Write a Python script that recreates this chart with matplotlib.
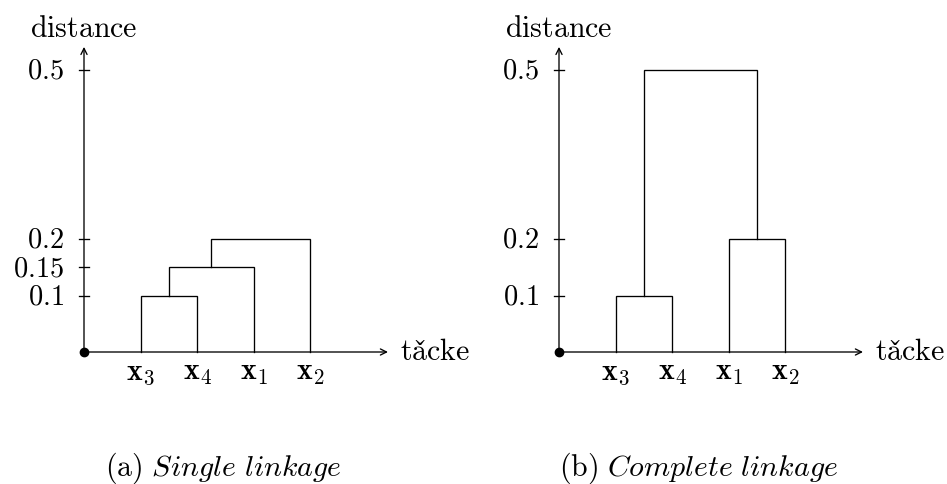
import matplotlib
matplotlib.use("Agg")
import matplotlib.pyplot as plt

plt.rcParams['mathtext.fontset'] = 'cm'

# ---- data ----
leaf_labels = [r'$\mathbf{x}_3$', r'$\mathbf{x}_4$', r'$\mathbf{x}_1$', r'$\mathbf{x}_2$']
# merges: (cluster a, cluster b, height); leaves 0..3, new clusters 4, 5, 6
single_merges = [(0, 1, 0.1), (4, 2, 0.15), (5, 3, 0.2)]
complete_merges = [(0, 1, 0.1), (2, 3, 0.2), (4, 5, 0.5)]
single_ticks = [0.1, 0.15, 0.2, 0.5]
single_ticklabels = ['0.1', '0.15', '0.2', '0.5']
complete_ticks = [0.1, 0.2, 0.5]
complete_ticklabels = ['0.1', '0.2', '0.5']
captions = [r'$\mathrm{(a)}\ \mathit{Single\ linkage}$',
            r'$\mathrm{(b)}\ \mathit{Complete\ linkage}$']
y_label = r'$\mathrm{distance}$'
x_label = r'$\mathrm{ta\check{c}ke}$'

W, H = 947, 485
fig = plt.figure(figsize=(W / 100, H / 100), dpi=100)

PX_X = 56.5   # pixels per leaf unit
PX_Y = 565.0  # pixels per distance unit
FS = 21.5
FS_NUM = 20.5
LW = 0.95


def make_axes(left_px, right_px, origin_px, origin_py):
    ax = fig.add_axes([left_px / W, 0, (right_px - left_px) / W, 1])
    ax.set_xlim((left_px - origin_px) / PX_X, (right_px - origin_px) / PX_X)
    ax.set_ylim((origin_py - H) / PX_Y, origin_py / PX_Y)
    ax.axis('off')
    return ax


def draw(ax, merges, ticks, ticklabels, caption):
    n = len(leaf_labels)
    xs = [i + 1 for i in range(n)]
    ys = [0.0] * n
    for a, b, h in merges:
        ax.plot([xs[a], xs[a], xs[b], xs[b]], [ys[a], h, h, ys[b]],
                color='black', lw=LW, solid_joinstyle='miter')
        xs.append((xs[a] + xs[b]) / 2)
        ys.append(h)
    # axes arrows
    arr = dict(arrowstyle='->', lw=LW, color='black', mutation_scale=11,
               shrinkA=0, shrinkB=0)
    ax.annotate('', xy=(5.38, 0), xytext=(0, 0), arrowprops=arr)
    ax.annotate('', xy=(0, 0.54), xytext=(0, 0), arrowprops=arr)
    ax.plot([0], [0], 'o', color='black', ms=6, zorder=5)
    # y ticks
    tl = 5 / PX_X
    for t, lab in zip(ticks, ticklabels):
        ax.plot([-tl, tl], [t, t], color='black', lw=LW)
        ax.text(-0.36, t, '$' + lab + '$', ha='right', va='center', fontsize=FS_NUM)
    # leaf labels
    for i, lab in enumerate(leaf_labels):
        ax.text(i + 1, -0.048, lab, ha='center', va='baseline', fontsize=FS)
    ax.text(0, 0.559, y_label, ha='center', va='baseline', fontsize=FS)
    ax.text(5.59, -0.0124, x_label, ha='left', va='baseline', fontsize=FS)
    ax.text(2.47, -0.2177, caption, ha='center', va='baseline', fontsize=FS)


ax1 = make_axes(0, 473, 84, 353)
draw(ax1, single_merges, single_ticks, single_ticklabels, captions[0])
ax2 = make_axes(473, 947, 559, 353)
draw(ax2, complete_merges, complete_ticks, complete_ticklabels, captions[1])

fig.savefig('out.png', dpi=100)
